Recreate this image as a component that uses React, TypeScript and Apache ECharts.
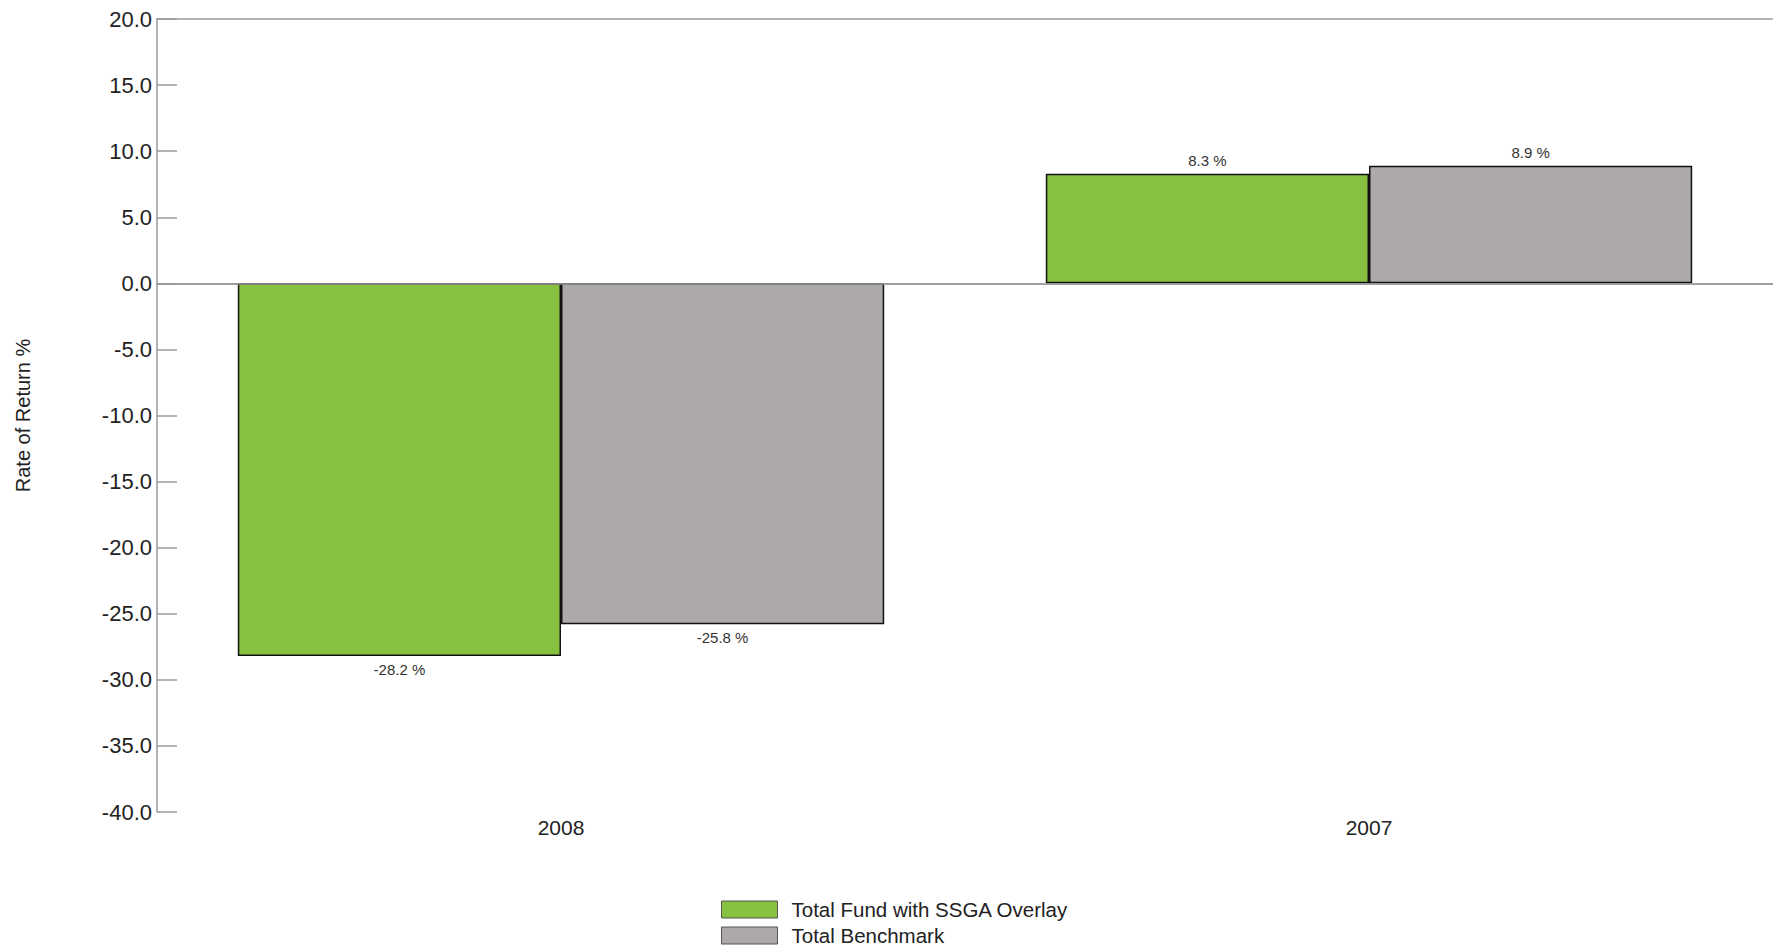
import React, { useEffect, useRef } from "react";
import * as echarts from "echarts";

const categories = ["2008", "2007"];
const fundValues = [-28.2, 8.3];
const benchmarkValues = [-25.8, 8.9];
const seriesNames = ["Total Fund with SSGA Overlay", "Total Benchmark"];
const yMin = -40;
const yMax = 20;
const yInterval = 5;

const FONT = "'Liberation Sans', Arial, Helvetica, sans-serif";

function toItems(values: number[]) {
  return values.map((v) => ({
    value: v,
    label: { position: v < 0 ? "bottom" : "top" },
  }));
}

const legendTops = [899, 925];

export default function App() {
  const ref = useRef<HTMLDivElement>(null);
  useEffect(() => {
    if (!ref.current) return;
    const chart = echarts.init(ref.current, undefined, { renderer: "svg" });
    const labelCfg = {
      show: true,
      distance: 6,
      fontSize: 15,
      fontFamily: FONT,
      color: "#333",
      formatter: (p: any) => `${Number(p.value).toFixed(1)} %`,
    };
    const legends = seriesNames.map((name, i) => ({
      orient: "vertical",
      left: 721,
      top: legendTops[i],
      padding: 0,
      itemWidth: 56,
      itemHeight: 17,
      icon: "rect",
      textStyle: {
        fontSize: 20.5,
        fontFamily: FONT,
        color: "#222",
        padding: [0, 0, 0, 9],
      },
      itemStyle: { borderColor: "#555", borderWidth: 1 },
      data: [name],
    }));
    chart.setOption({
      animation: false,
      backgroundColor: "#fff",
      grid: { left: 157, top: 19, right: 0, bottom: 136 },
      legend: legends,
      xAxis: [
        {
          type: "category",
          data: categories,
          position: "bottom",
          axisLine: { show: true, lineStyle: { color: "#9a9a9a", width: 1.5 } },
          axisTick: { show: false },
          axisLabel: { fontSize: 21, fontFamily: FONT, color: "#222", margin: 5 },
        },
        {
          type: "category",
          data: categories,
          position: "top",
          axisLine: { show: true, lineStyle: { color: "#9a9a9a", width: 1.5 } },
          axisTick: { show: false },
          axisLabel: { show: false },
        },
      ],
      yAxis: {
        type: "value",
        min: yMin,
        max: yMax,
        interval: yInterval,
        name: "Rate of Return %",
        nameLocation: "middle",
        nameGap: 124,
        nameTextStyle: { fontSize: 20, fontFamily: FONT, color: "#222" },
        axisLine: { show: true, lineStyle: { color: "#9a9a9a", width: 1.5 } },
        axisTick: { show: true, inside: true, length: 20, lineStyle: { color: "#9a9a9a", width: 1.5 } },
        axisLabel: {
          fontSize: 22,
          fontFamily: FONT,
          color: "#222",
          margin: 5,
          formatter: (v: number) => v.toFixed(1),
        },
        splitLine: { show: false },
      },
      series: [
        {
          name: seriesNames[0],
          type: "bar",
          data: toItems(fundValues),
          barGap: "0%",
          barCategoryGap: "20%",
          itemStyle: { color: "#86C240", borderColor: "#111", borderWidth: 1.5 },
          label: labelCfg,
          markLine: {
            silent: true,
            symbol: "none",
            label: { show: false },
            lineStyle: { color: "#9a9a9a", width: 1.5, type: "solid" },
            data: [{ yAxis: 0 }],
          },
          z: 3,
        },
        {
          name: seriesNames[1],
          type: "bar",
          data: toItems(benchmarkValues),
          barGap: "0%",
          barCategoryGap: "20%",
          itemStyle: { color: "#ADA9A8", borderColor: "#111", borderWidth: 1.5 },
          label: labelCfg,
          z: 3,
        },
      ],
    });
    return () => chart.dispose();
  }, []);
  return (
    <div
      ref={ref}
      style={{ position: "absolute", left: 0, top: 0, width: 1773, height: 948 }}
    />
  );
}
